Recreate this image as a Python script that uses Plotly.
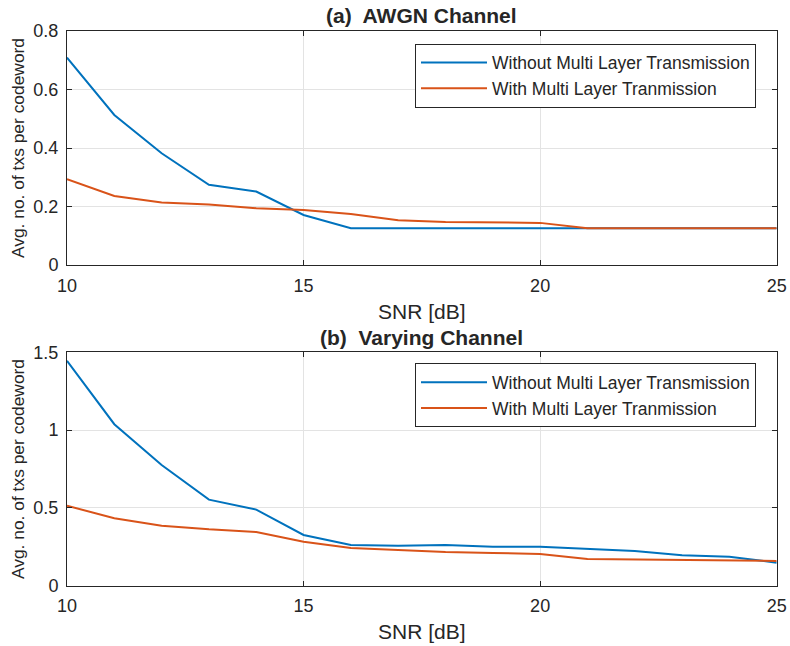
import plotly.graph_objects as go

snr = [10, 11, 12, 13, 14, 15, 16, 17, 18, 19, 20, 21, 22, 23, 24, 25]

awgn_without = [0.709, 0.513, 0.382, 0.274, 0.251, 0.171, 0.126, 0.126, 0.126, 0.126,
                0.126, 0.126, 0.126, 0.126, 0.126, 0.126]
awgn_with = [0.293, 0.236, 0.214, 0.207, 0.194, 0.188, 0.174, 0.153, 0.147, 0.145,
             0.144, 0.126, 0.126, 0.126, 0.126, 0.126]

vary_without = [1.445, 1.038, 0.776, 0.553, 0.489, 0.326, 0.262, 0.257, 0.262, 0.251,
                0.251, 0.238, 0.223, 0.195, 0.186, 0.148]
vary_with = [0.514, 0.433, 0.386, 0.362, 0.345, 0.283, 0.242, 0.229, 0.216, 0.210,
             0.204, 0.171, 0.167, 0.165, 0.162, 0.159]

names = ["Without Multi Layer Transmission", "With Multi Layer Tranmission"]
titles = ["<b>(a)  AWGN Channel</b>", "<b>(b)  Varying Channel</b>"]
xticks = [10, 15, 20, 25]
yticks_top = [0, 0.2, 0.4, 0.6, 0.8]
ytick_top_text = ["0", "0.2", "0.4", "0.6", "0.8"]
yticks_bot = [0, 0.5, 1, 1.5]
ytick_bot_text = ["0", "0.5", "1", "1.5"]

BLUE = "#0072BD"
ORANGE = "#D95319"
AX = "#262626"
FONT = "Liberation Sans, Arial, sans-serif"

fig = go.Figure()
fig.add_trace(go.Scatter(x=snr, y=awgn_without, mode="lines", name=names[0],
                         line=dict(color=BLUE, width=2), xaxis="x", yaxis="y", legend="legend"))
fig.add_trace(go.Scatter(x=snr, y=awgn_with, mode="lines", name=names[1],
                         line=dict(color=ORANGE, width=2), xaxis="x", yaxis="y", legend="legend"))
fig.add_trace(go.Scatter(x=snr, y=vary_without, mode="lines", name=names[0],
                         line=dict(color=BLUE, width=2), xaxis="x2", yaxis="y2", legend="legend2"))
fig.add_trace(go.Scatter(x=snr, y=vary_with, mode="lines", name=names[1],
                         line=dict(color=ORANGE, width=2), xaxis="x2", yaxis="y2", legend="legend2"))

xd = [67 / 790, 776.7 / 790]
top_dom = [(646 - 265) / 646, (646 - 31) / 646]
bot_dom = [(646 - 585.7) / 646, (646 - 352.3) / 646]

common_x = dict(range=[10, 25], tickvals=xticks, showgrid=True, gridcolor="#e3e3e3",
                gridwidth=1, showline=True, linecolor=AX, linewidth=1, mirror="ticks",
                ticks="inside", ticklen=5, tickcolor=AX, zeroline=False, automargin=False,
                ticklabelstandoff=4,
                tickfont=dict(family=FONT, size=18, color=AX), domain=xd,
                title=dict(text="SNR [dB]", font=dict(family=FONT, size=21, color=AX), standoff=9))
common_y = dict(showgrid=True, gridcolor="#e3e3e3", gridwidth=1, showline=True,
                linecolor=AX, linewidth=1, mirror="ticks", ticks="inside", ticklen=5,
                tickcolor=AX, zeroline=False, automargin=False, ticklabelstandoff=4,
                tickfont=dict(family=FONT, size=18, color=AX),
                title=dict(text="Avg. no. of txs per codeword",
                           font=dict(family=FONT, size=17.4, color=AX), standoff=4))

legend_common = dict(bgcolor="white", bordercolor=AX, borderwidth=1,
                     font=dict(family=FONT, size=17.5, color=AX), xanchor="left",
                     yanchor="top", itemwidth=66, tracegroupgap=0)

fig.update_layout(
    width=790, height=646,
    margin=dict(l=0, r=0, t=0, b=0, autoexpand=False),
    paper_bgcolor="white", plot_bgcolor="white",
    xaxis=dict(common_x, anchor="y"),
    yaxis=dict(common_y, range=[0, 0.8], tickvals=yticks_top, ticktext=ytick_top_text,
               domain=top_dom, anchor="x"),
    xaxis2=dict(common_x, anchor="y2"),
    yaxis2=dict(common_y, range=[0, 1.5], tickvals=yticks_bot, ticktext=ytick_bot_text,
                domain=bot_dom, anchor="x2"),
    legend=dict(legend_common, x=415 / 790, y=(646 - 43.5) / 646),
    legend2=dict(legend_common, x=415 / 790, y=(646 - 363.3) / 646),
    annotations=[
        dict(text=titles[0], x=(xd[0] + xd[1]) / 2, y=(646 - 15.5) / 646, xref="paper",
             yref="paper", showarrow=False, font=dict(family=FONT, size=21, color=AX),
             xanchor="center", yanchor="middle"),
        dict(text=titles[1], x=(xd[0] + xd[1]) / 2, y=(646 - 337) / 646, xref="paper",
             yref="paper", showarrow=False, font=dict(family=FONT, size=21, color=AX),
             xanchor="center", yanchor="middle"),
    ],
)

fig.write_html("out.html", post_script="document.body.style.margin='0';")
